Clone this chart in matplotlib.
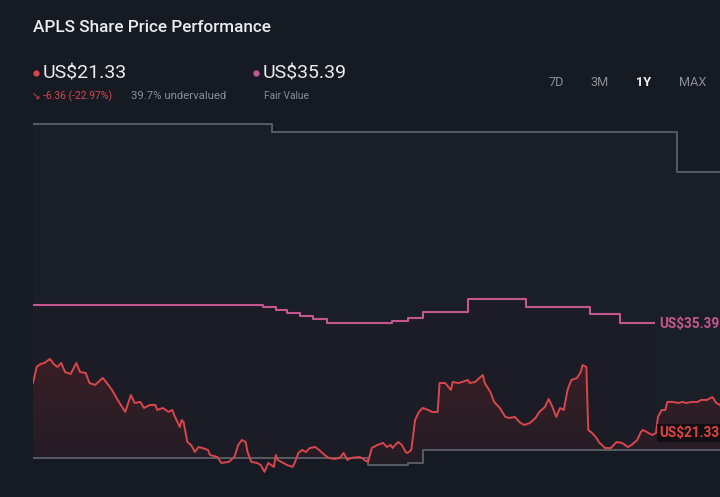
import numpy as np
import matplotlib
matplotlib.use("Agg")
import matplotlib.pyplot as plt
from matplotlib.lines import Line2D
from matplotlib.colors import LinearSegmentedColormap

plt.rcParams['font.family'] = ['Roboto', 'DejaVu Sans']

# share price over the last year (day index, US$)
price_days = [0, 2, 4, 6, 9, 11, 13, 15, 17, 20, 23, 25, 28, 30, 33, 37, 38, 42, 45, 49,
              52, 54, 57, 59, 62, 65, 66, 69, 72, 74, 75, 78, 79, 80, 82, 84, 86, 88, 90, 93,
              94, 98, 100, 104, 107, 109, 111, 113, 114, 116, 119, 121, 123, 125, 128, 129, 130, 133, 135, 138,
              139, 141, 143, 145, 147, 150, 152, 155, 157, 160, 163, 165, 167, 169, 173, 175, 176, 178, 180, 183,
              186, 188, 190, 191, 194, 196, 198, 199, 201, 203, 205, 207, 210, 212, 215, 216, 219, 222, 223, 226,
              228, 231, 232, 235, 236, 239, 240, 243, 245, 248, 251, 253, 256, 259, 261, 264, 267, 269, 272, 274,
              276, 278, 280, 282, 284, 286, 289, 291, 292, 294, 295, 297, 299, 301, 304, 307, 310, 313, 316, 318,
              321, 323, 324, 326, 329, 331, 332, 334, 336, 337, 340, 343, 345, 347, 350, 353, 355, 358, 361, 363,
              365]
price_vals = [27.72, 29.81, 30.15, 30.28, 30.79, 30.15, 29.77, 30.28, 29.13, 28.87, 30.28, 29.13, 29.00, 27.72, 27.47, 28.36, 28.11, 26.83, 25.55, 24.02,
              26.19, 25.17, 25.30, 24.53, 24.91, 24.91, 24.27, 24.53, 24.02, 24.27, 23.63, 22.10, 22.99, 22.74, 20.18, 19.80, 18.90, 19.54, 19.41, 19.16,
              18.52, 18.26, 17.50, 17.63, 18.26, 19.80, 20.44, 20.18, 18.90, 17.63, 17.50, 17.24, 16.35, 17.50, 16.99, 18.52, 17.88, 17.50, 17.24, 16.99,
              17.50, 18.78, 19.16, 18.90, 19.41, 19.54, 19.16, 18.52, 18.14, 18.01, 18.14, 18.78, 17.88, 18.14, 18.26, 18.14, 17.88, 17.63, 19.41, 19.80,
              20.06, 19.54, 19.80, 19.41, 20.18, 19.80, 18.90, 18.78, 19.16, 22.99, 24.02, 24.53, 24.27, 24.02, 24.02, 27.72, 27.72, 26.83, 27.85, 27.72,
              27.85, 28.11, 27.72, 27.85, 28.11, 28.74, 27.72, 26.57, 25.30, 24.53, 23.38, 23.25, 23.38, 22.61, 22.36, 22.61, 23.25, 24.02, 24.66, 25.68,
              24.66, 23.38, 24.53, 24.27, 26.83, 28.11, 28.36, 29.13, 30.02, 29.77, 21.72, 21.33, 20.82, 20.06, 19.41, 19.41, 20.18, 20.06, 19.54, 19.80,
              20.44, 21.46, 21.72, 21.46, 21.08, 21.33, 23.38, 24.27, 24.27, 25.30, 25.30, 25.17, 25.30, 25.17, 25.30, 25.30, 25.55, 25.55, 25.93, 25.17,
              24.91]

# fair value estimate (step changes)
fv_days = [0, 122, 129, 135, 142, 149, 156, 191, 199, 207, 231, 262, 296, 312, 330]
fv_vals = [37.69, 37.43, 37.05, 36.67, 36.28, 35.90, 35.39, 35.65, 36.03, 36.80, 38.46, 37.43, 36.54, 35.39, 35.39]

# grey upper and lower reference lines
hi_days = [0, 127, 342, 365]
hi_vals = [60.82, 59.80, 54.69, 54.69]
lo_days = [0, 178, 199, 207, 365]
lo_vals = [18.14, 17.24, 17.50, 19.16, 19.16]

bg = "#151a23"
red = "#d9464b"
pink = "#c4578d"
grey_line = "#5b6069"

W, H = 720, 497
fig = plt.figure(figsize=(7.2, 4.97), dpi=100, facecolor=bg)

y_top, y_bot = 63.89, 13.15
ax = fig.add_axes([33 / W, 0, 687 / W, 397 / H])
ax.set_facecolor(bg)
ax.set_xlim(0, 365)
ax.set_ylim(y_bot, y_top)
ax.axis("off")

# fills
ax.fill_between(hi_days, hi_vals, y_bot, step="post", color="#1a1e27", lw=0, zorder=1)
ax.fill_between(fv_days, fv_vals, y_bot, step="post", color="#1c1c26", lw=0, zorder=1.1)
poly = ax.fill_between(price_days, price_vals, y_bot, color="none", lw=0, zorder=1.2)
cmap = LinearSegmentedColormap.from_list("g", ["#1c1c26", "#3a1e25"])
grad = np.linspace(0, 1, 256).reshape(-1, 1)
img = ax.imshow(grad, cmap=cmap, aspect="auto", extent=[0, 365, y_bot, 31], origin="lower", zorder=1.2)
img.set_clip_path(poly.get_paths()[0], transform=ax.transData)
ax.fill_between(lo_days, lo_vals, y_bot, step="post", color=bg, lw=0, zorder=1.5)

# lines
ax.plot(hi_days, hi_vals, drawstyle="steps-post", color=grey_line, lw=1.3, zorder=2)
ax.plot(lo_days, lo_vals, drawstyle="steps-post", color=grey_line, lw=1.3, zorder=2)
ax.plot(fv_days, fv_vals, drawstyle="steps-post", color=pink, lw=1.5, zorder=3)
ax.plot(price_days, price_vals, color=red, lw=1.4, zorder=4)


def px(x, y):
    return x / W, 1 - y / H


# end labels
fig.text(*px(659, 324), "US$35.39", color=pink, fontsize=9.8, fontweight="bold",
         va="center", ha="left", zorder=6)
fig.text(*px(659, 433), "US$21.33", color="#e0443f", fontsize=9.8, fontweight="bold",
         va="center", ha="left", zorder=6,
         bbox=dict(facecolor="#120f14", edgecolor="none", pad=1.5))

# header texts
fig.text(*px(33, 27), "APLS Share Price Performance", color="#ececee", fontsize=12.3,
         fontweight="medium", va="center", ha="left")
fig.add_artist(Line2D([36 / W], [1 - 73 / H], marker="o", ms=3.5, color=red, transform=fig.transFigure))
fig.text(*px(43, 73), "US$21.33", color="#ececee", fontsize=14, va="center", ha="left")
fig.text(*px(32, 96), "↘", color=red, fontsize=7.5, va="center", ha="left")
fig.text(*px(43, 96), "-6.36 (-22.97%)", color=red, fontsize=7.5, va="center", ha="left")
fig.text(*px(131, 96), "39.7% undervalued", color="#8a8d94", fontsize=8.2, va="center", ha="left")
fig.add_artist(Line2D([256 / W], [1 - 73 / H], marker="o", ms=3.5, color=pink, transform=fig.transFigure))
fig.text(*px(263, 73), "US$35.39", color="#ececee", fontsize=14, va="center", ha="left")
fig.text(*px(264, 96), "Fair Value", color="#8a8d94", fontsize=7.3, va="center", ha="left")

tabs = ["7D", "3M", "1Y", "MAX"]
tab_x = [556, 600, 644, 693]
for t, xx in zip(tabs, tab_x):
    active = t == "1Y"
    fig.text(*px(xx, 82), t, color="#f2f2f4" if active else "#8a8d94", fontsize=9.2,
             fontweight="bold" if active else "normal", va="center", ha="center")

fig.savefig("out.png", dpi=100, facecolor=bg)
